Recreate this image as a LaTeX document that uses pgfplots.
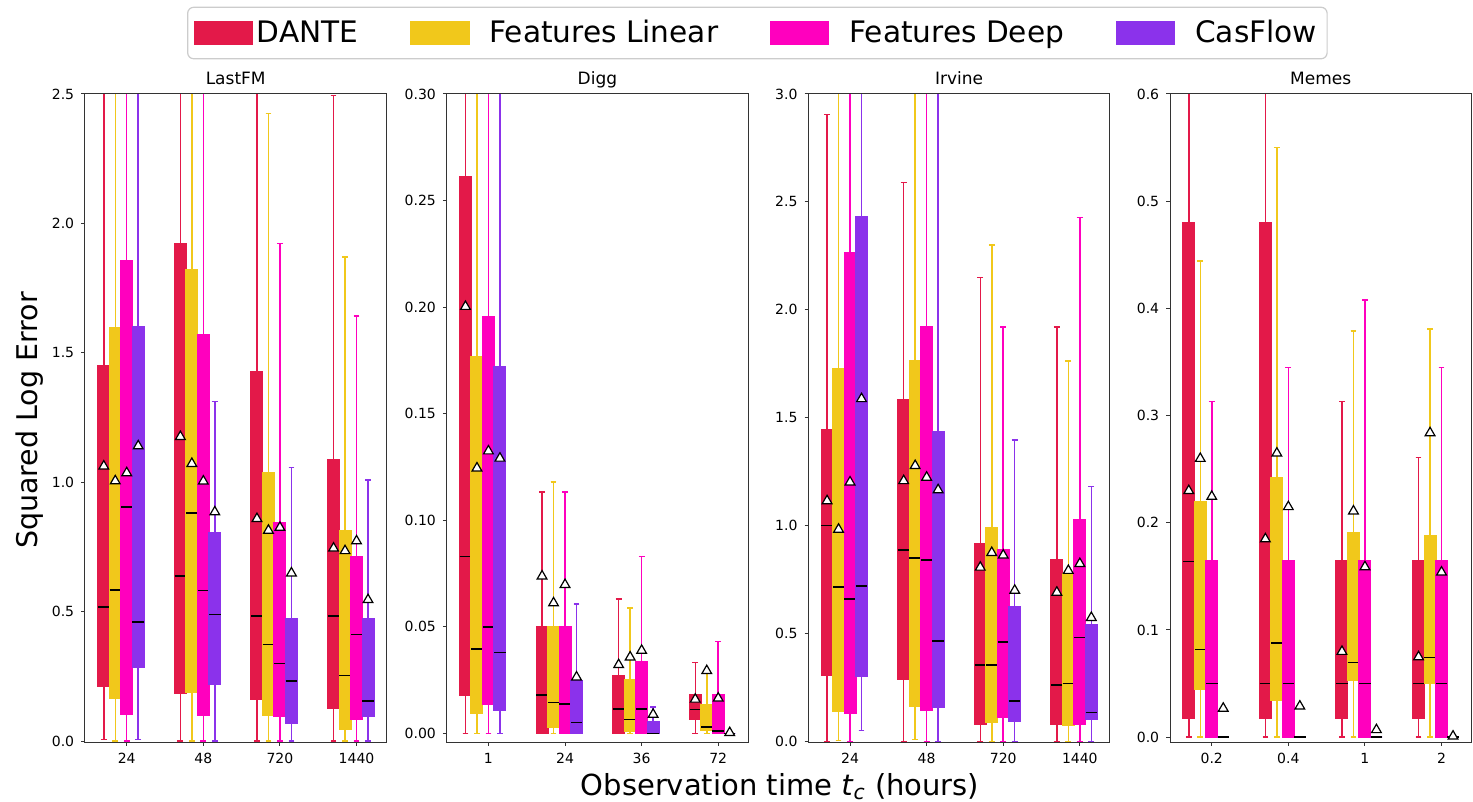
\documentclass[border=0pt]{standalone}
\usepackage{fontspec}
\setmainfont{DejaVu Sans}
\usepackage{pgfplots}
\usepackage{pgfplotstable}
\usepgfplotslibrary{statistics}
\pgfplotsset{compat=1.18}

\definecolor{cA}{RGB}{227,25,73}
\definecolor{cB}{RGB}{241,200,27}
\definecolor{cC}{RGB}{255,0,190}
\definecolor{cD}{RGB}{139,50,235}

% columns: draw position, lower whisker, lower quartile, median, upper quartile, upper whisker, mean
% rows 0-3 DANTE, 4-7 Features Linear, 8-11 Features Deep, 12-15 CasFlow
\pgfplotstableread{
pos  lw    lq    med   uq    uw    mean
0.70 0.007 0.212 0.518 1.451 3.0   1.067
1.70 0     0.186 0.639 1.923 3.0   1.181
2.70 0     0.163 0.484 1.427 3.0   0.864
3.70 0     0.127 0.484 1.086 2.495 0.750
0.85 0     0.165 0.585 1.596 3.0   1.010
1.85 0     0.188 0.881 1.821 3.0   1.077
2.85 0     0.100 0.373 1.036 2.425 0.819
3.85 0     0.046 0.253 0.812 1.871 0.740
1.00 0     0.103 0.904 1.857 3.0   1.041
2.00 0     0.100 0.582 1.571 3.0   1.009
3.00 0     0.095 0.301 0.843 1.923 0.830
4.00 0     0.084 0.413 0.713 1.642 0.778
1.15 0.007 0.284 0.460 1.601 3.0   1.145
2.15 0     0.220 0.489 0.807 1.313 0.890
3.15 0     0.069 0.232 0.475 1.058 0.654
4.15 0     0.095 0.155 0.473 1.009 0.551
}\Tlast

\pgfplotstableread{
pos  lw  lq     med    uq     uw     mean
0.70 0   0.0178 0.0829 0.2610 0.40   0.2008
1.70 0   0      0.0180 0.0499 0.1133 0.0743
2.70 0   0      0.0113 0.0270 0.0631 0.0327
3.70 0   0.0064 0.0112 0.0180 0.0332 0.0165
0.85 0   0.0096 0.0396 0.1768 0.40   0.1250
1.85 0   0.0030 0.0145 0.0500 0.1180 0.0617
2.85 0   0.0010 0.0065 0.0250 0.0587 0.0363
3.85 0   0.0015 0.0029 0.0134 0.0290 0.0299
1.00 0   0.0136 0.0499 0.1953 0.40   0.1330
2.00 0   0      0.0138 0.0500 0.1133 0.0703
3.00 0   0      0.0113 0.0334 0.0829 0.0394
4.00 0   0      0.0010 0.0180 0.0430 0.0170
1.15 0   0.0109 0.0380 0.1718 0.40   0.1296
2.15 0   0      0.0050 0.0248 0.0606 0.0269
3.15 0   0      0      0.0052 0.0124 0.0094
4.15 0   0      0      0      0      0.0008
}\Tdigg

\pgfplotstableread{
pos  lw    lq    med   uq    uw    mean
0.70 0     0.308 1.000 1.442 2.905 1.120
1.70 0     0.289 0.886 1.581 2.591 1.213
2.70 0     0.081 0.355 0.917 2.149 0.812
3.70 0     0.081 0.262 0.843 1.921 0.696
0.85 0.004 0.138 0.715 1.729 3.5   0.988
1.85 0.008 0.161 0.849 1.764 3.5   1.283
2.85 0     0.089 0.353 0.988 2.300 0.880
3.85 0     0.076 0.269 0.775 1.762 0.797
1.00 0     0.132 0.659 2.262 3.5   1.207
2.00 0     0.145 0.841 1.921 3.5   1.229
3.00 0     0.112 0.461 0.886 1.921 0.868
4.00 0     0.081 0.481 1.027 2.428 0.829
1.15 0.05  0.304 0.719 2.432 3.5   1.593
2.15 0     0.157 0.465 1.434 3.5   1.171
3.15 0     0.095 0.188 0.624 1.397 0.705
4.15 0     0.103 0.134 0.541 1.180 0.579
}\Tirv

\pgfplotstableread{
pos  lw  lq     med    uq    uw    mean
0.70 0   0.0175 0.164  0.480 0.8   0.231
1.70 0   0.0175 0.050  0.480 0.8   0.186
2.70 0   0.0175 0.050  0.165 0.313 0.081
3.70 0   0.0175 0.050  0.165 0.261 0.076
0.85 0   0.045  0.0816 0.220 0.444 0.261
1.85 0   0.034  0.088  0.242 0.550 0.266
2.85 0   0.053  0.0695 0.191 0.379 0.212
3.85 0   0.050  0.0745 0.188 0.381 0.285
1.00 0   0      0.050  0.165 0.313 0.2256
2.00 0   0      0.050  0.165 0.345 0.216
3.00 0   0      0.050  0.165 0.408 0.160
4.00 0   0      0.050  0.165 0.345 0.155
1.15 0   0      0      0     0     0.028
2.15 0   0      0      0     0     0.030
3.15 0   0      0      0     0     0.008
4.15 0   0      0      0     0     0.002
}\Tmemes

\newcommand\bp[3]{%
  \pgfplotstablegetelem{#2}{pos}\of{#1}\edef\vpos{\pgfplotsretval}%
  \pgfplotstablegetelem{#2}{lw}\of{#1}\edef\vlw{\pgfplotsretval}%
  \pgfplotstablegetelem{#2}{lq}\of{#1}\edef\vlq{\pgfplotsretval}%
  \pgfplotstablegetelem{#2}{med}\of{#1}\edef\vmed{\pgfplotsretval}%
  \pgfplotstablegetelem{#2}{uq}\of{#1}\edef\vuq{\pgfplotsretval}%
  \pgfplotstablegetelem{#2}{uw}\of{#1}\edef\vuw{\pgfplotsretval}%
  \edef\tmp{\noexpand\addplot[fill=#3, draw=#3, line width=0.75pt,
     boxplot prepared={draw direction=y, draw position=\vpos, lower whisker=\vlw,
       lower quartile=\vlq, median=\vmed, upper quartile=\vuq,
       upper whisker=\vuw}] coordinates {};}%
  \tmp}

\newcommand\panel[1]{%
  \pgfplotsforeachungrouped \r in {0,1,2,3}{\bp{#1}{\r}{cA}}%
  \pgfplotsforeachungrouped \r in {4,5,6,7}{\bp{#1}{\r}{cB}}%
  \pgfplotsforeachungrouped \r in {8,9,10,11}{\bp{#1}{\r}{cC}}%
  \pgfplotsforeachungrouped \r in {12,13,14,15}{\bp{#1}{\r}{cD}}%
  \addplot[only marks, mark=triangle*, mark size=2.8pt,
    mark options={fill=white, draw=black, line width=0.6pt, yshift=-0.6pt}]
    table[x=pos, y=mean] {#1};
}

\pgfplotsset{panel/.style={
  scale only axis, width=150.7pt, height=324pt, anchor=north west,
  xmin=0.455, xmax=4.39, xtick={1,2,3,4},
  tick align=outside, tick pos=left, major tick length=1.9pt,
  tick style={black!80, line width=0.5pt},
  axis line style={black!80, line width=0.5pt},
  ticklabel style={font=\fontsize{7}{8}\selectfont, text=black},
  title style={font=\fontsize{8.5}{10}\selectfont, anchor=base, yshift=-1.5pt},
  /pgf/number format/assume math mode=true,
  scaled y ticks=false,
  boxplot/draw direction=y,
  boxplot/box extend=0.15, boxplot/whisker extend=0.075,
  boxplot/every median/.style={draw=black, line width=0.75pt},
  axis on top,
}}

\begin{document}
\begin{tikzpicture}
\path[use as bounding box] (0,0) rectangle (736.5pt,-401pt);

\begin{axis}[panel, at={(42.5pt,-47pt)}, title={LastFM},
  ymin=-0.003, ymax=2.5, ytick={0,0.5,1,1.5,2,2.5},
  yticklabel style={/pgf/number format/.cd, fixed, fixed zerofill, precision=1},
  xticklabels={24,48,720,1440},
  legend columns=4, legend cell align=left,
  legend style={at={(2.2309,1.0941)}, anchor=center, draw=black!20,
    rounded corners=3pt, line width=0.6pt,
    font=\fontsize{14.8}{16}\selectfont, inner xsep=3pt, inner ysep=4.5pt,
    /tikz/every even column/.append style={column sep=24pt}}]
\addlegendimage{legend image code/.code={\fill[cA, sharp corners] (0pt,-5.5pt) rectangle (29pt,5.5pt);}}
\addlegendentry{DANTE}
\addlegendimage{legend image code/.code={\fill[cB, sharp corners] (0pt,-5.5pt) rectangle (29pt,5.5pt);}}
\addlegendentry{\hspace*{8pt}Features Linear}
\addlegendimage{legend image code/.code={\fill[cC, sharp corners] (0pt,-5.5pt) rectangle (29pt,5.5pt);}}
\addlegendentry{\hspace*{8pt}Features Deep}
\addlegendimage{legend image code/.code={\fill[cD, sharp corners] (0pt,-5.5pt) rectangle (29pt,5.5pt);}}
\addlegendentry{\hspace*{8pt}CasFlow}
\panel{\Tlast}
\end{axis}

\begin{axis}[panel, at={(223.35pt,-47pt)}, title={Digg},
  ymin=-0.0041, ymax=0.3, ytick={0,0.05,0.1,0.15,0.2,0.25,0.3},
  yticklabel style={/pgf/number format/.cd, fixed, fixed zerofill, precision=2},
  xticklabels={1,24,36,72}]
\panel{\Tdigg}
\end{axis}

\begin{axis}[panel, at={(404.15pt,-47pt)}, title={Irvine},
  ymin=-0.003, ymax=3, ytick={0,0.5,1,1.5,2,2.5,3},
  yticklabel style={/pgf/number format/.cd, fixed, fixed zerofill, precision=1},
  xticklabels={24,48,720,1440}]
\panel{\Tirv}
\end{axis}

\begin{axis}[panel, at={(585pt,-47pt)}, title={Memes},
  ymin=-0.0045, ymax=0.6, ytick={0,0.1,0.2,0.3,0.4,0.5,0.6},
  yticklabel style={/pgf/number format/.cd, fixed, fixed zerofill, precision=1},
  xticklabels={0.2,0.4,1,2}]
\panel{\Tmemes}
\end{axis}

\node[rotate=90, anchor=base, font=\fontsize{14.25}{16}\selectfont] at (19pt,-210.25pt) {Squared Log Error};
\node[anchor=base, font=\fontsize{14.5}{16}\selectfont] at (390pt,-397.5pt) {Observation time \textit{t}\textsubscript{\textit{c}} (hours)};
\end{tikzpicture}
\end{document}
